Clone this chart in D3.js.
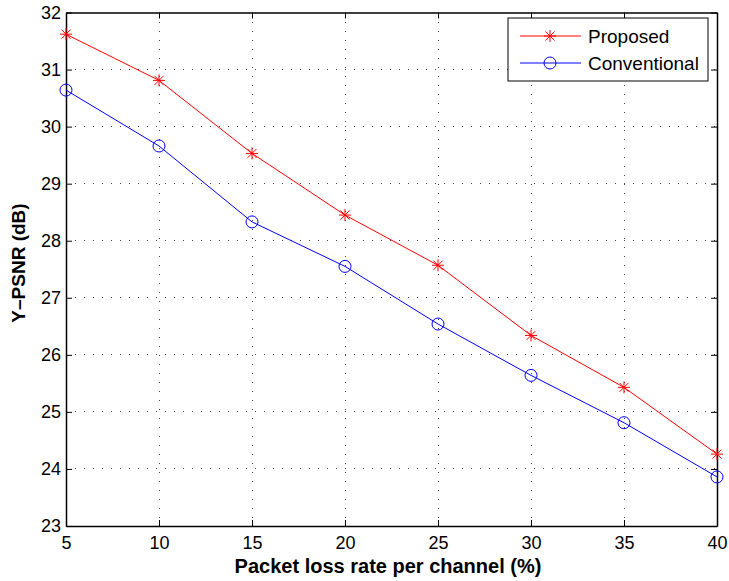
<!DOCTYPE html>
<html>
<head>
<meta charset="utf-8">
<script src="https://cdn.jsdelivr.net/npm/d3@7"></script>
<style>
  body { margin: 0; background: #fff; }
  svg { font-family: "Liberation Sans", Arial, sans-serif; }
</style>
</head>
<body>
<svg width="729" height="581"></svg>
<script>
const lossRates = [5, 10, 15, 20, 25, 30, 35, 40]
const proposed = [31.62, 30.81, 29.53, 28.45, 27.57, 26.34, 25.43, 24.26]
const conventional = [30.64, 29.66, 28.33, 27.55, 26.54, 25.64, 24.81, 23.86]
const xTicks = [5, 10, 15, 20, 25, 30, 35, 40]
const yTicks = [23, 24, 25, 26, 27, 28, 29, 30, 31, 32]
const seriesNames = ["Proposed", "Conventional"]

const plotLeft = 66, plotRight = 717, plotTop = 12.5, plotBottom = 526

const svg = d3.select("svg")

const x = d3.scaleLinear().domain([5, 40]).range([plotLeft, plotRight])
const y = d3.scaleLinear().domain([23, 32]).range([plotBottom, plotTop])

// grid
const grid = svg.append("g")
grid.selectAll("line.gx")
    .data(xTicks.slice(1, -1))
    .enter().append("line")
    .attr("x1", d => x(d)).attr("x2", d => x(d))
    .attr("y1", plotTop).attr("y2", plotBottom)
grid.selectAll("line.gy")
    .data(yTicks.slice(1, -1))
    .enter().append("line")
    .attr("y1", d => y(d)).attr("y2", d => y(d))
    .attr("x1", plotLeft).attr("x2", plotRight)
grid.selectAll("line")
    .attr("stroke", "#444")
    .attr("stroke-width", 1)
    .attr("stroke-dasharray", "1,8")
    .attr("shape-rendering", "crispEdges")

// axes with inward ticks, box on all sides
const tickLen = 6
svg.append("g")
    .attr("transform", `translate(0,${plotBottom})`)
    .call(d3.axisBottom(x).tickValues(xTicks).tickSizeInner(-tickLen).tickSizeOuter(0).tickPadding(10))
svg.append("g")
    .attr("transform", `translate(0,${plotTop})`)
    .call(d3.axisTop(x).tickValues(xTicks).tickSizeInner(-tickLen).tickSizeOuter(0).tickFormat(""))
svg.append("g")
    .attr("transform", `translate(${plotLeft},0)`)
    .call(d3.axisLeft(y).tickValues(yTicks).tickSizeInner(-tickLen).tickSizeOuter(0).tickPadding(5))
svg.append("g")
    .attr("transform", `translate(${plotRight},0)`)
    .call(d3.axisRight(y).tickValues(yTicks).tickSizeInner(-tickLen).tickSizeOuter(0).tickFormat(""))

svg.selectAll(".domain").attr("stroke", "#000").attr("stroke-width", 1.5)
svg.selectAll(".tick line").attr("stroke", "#000")
svg.selectAll(".tick text").attr("font-size", 18).attr("fill", "#000")
    .attr("font-family", "'Liberation Sans', Arial, sans-serif")

const line = d3.line()
    .x((d, i) => x(lossRates[i]))
    .y(d => y(d))

const asterisk = function (g, cx, cy, r, color) {
    const a = g.append("g").attr("transform", `translate(${cx},${cy})`)
        .attr("stroke", color).attr("stroke-width", 1)
    a.append("line").attr("x1", -r).attr("x2", r).attr("y1", 0).attr("y2", 0)
    a.append("line").attr("x1", 0).attr("x2", 0).attr("y1", -r).attr("y2", r)
    const k = r * 0.75
    a.append("line").attr("x1", -k).attr("x2", k).attr("y1", -k).attr("y2", k)
    a.append("line").attr("x1", -k).attr("x2", k).attr("y1", k).attr("y2", -k)
}

// Proposed
svg.append("path")
    .datum(proposed)
    .attr("d", line)
    .attr("fill", "none")
    .attr("stroke", "#ff0000")
    .attr("stroke-width", 1)
proposed.forEach((d, i) => asterisk(svg, x(lossRates[i]), y(d), 6, "#ff0000"))

// Conventional
svg.append("path")
    .datum(conventional)
    .attr("d", line)
    .attr("fill", "none")
    .attr("stroke", "#0000ff")
    .attr("stroke-width", 1)
svg.selectAll("circle.conv")
    .data(conventional)
    .enter().append("circle")
    .attr("cx", (d, i) => x(lossRates[i]))
    .attr("cy", d => y(d))
    .attr("r", 6)
    .attr("fill", "none")
    .attr("stroke", "#0000ff")
    .attr("stroke-width", 1)

// axis labels
svg.append("text")
    .attr("x", 388)
    .attr("y", 573)
    .attr("text-anchor", "middle")
    .attr("font-size", 20)
    .attr("font-weight", "bold")
    .text("Packet loss rate per channel (%)")
svg.append("text")
    .attr("transform", "translate(25,263) rotate(-90)")
    .attr("text-anchor", "middle")
    .attr("font-size", 19)
    .attr("font-weight", "bold")
    .text("Y\u2013PSNR (dB)")

// legend
const legend = svg.append("g").attr("transform", "translate(508,18)")
legend.append("rect")
    .attr("width", 200).attr("height", 63)
    .attr("fill", "#fff").attr("stroke", "#000").attr("stroke-width", 1)
const colors = ["#ff0000", "#0000ff"]
seriesNames.forEach((name, i) => {
    const ly = 18 + i * 27
    legend.append("line")
        .attr("x1", 12).attr("x2", 73).attr("y1", ly).attr("y2", ly)
        .attr("stroke", colors[i])
    if (i === 0) asterisk(legend, 42, ly, 6, colors[i])
    else legend.append("circle").attr("cx", 42).attr("cy", ly).attr("r", 6)
        .attr("fill", "none").attr("stroke", colors[i])
    legend.append("text")
        .attr("x", 80).attr("y", ly + 7)
        .attr("font-size", 19)
        .text(name)
})
</script>
</body>
</html>
